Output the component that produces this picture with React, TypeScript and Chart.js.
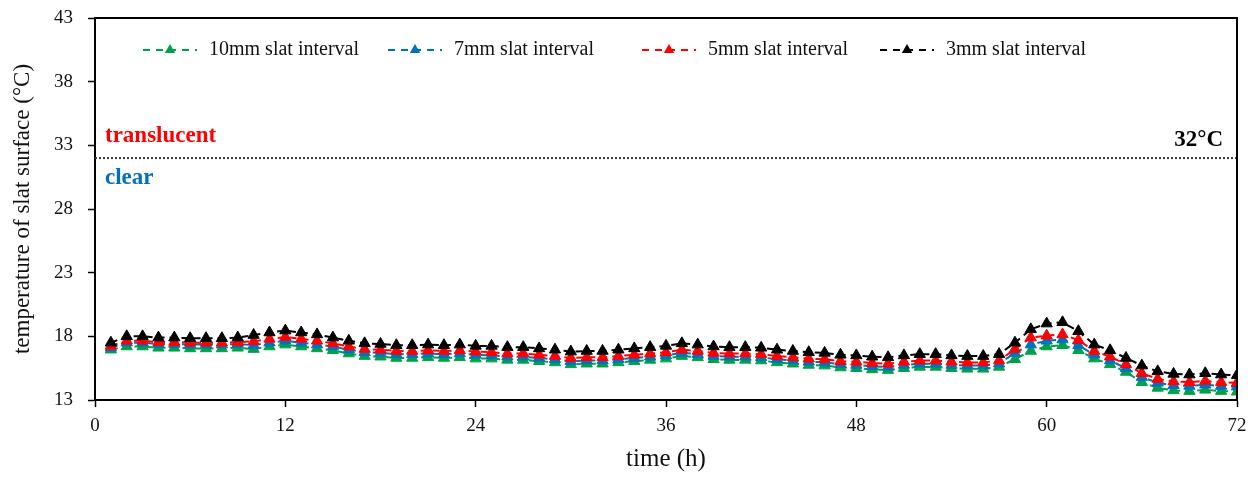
import { useEffect, useRef } from "react";
import { Chart, registerables } from "chart.js";

Chart.register(...registerables);

// Time since start of measurement (h)
const hours = [
  1, 2, 3, 4, 5, 6, 7, 8, 9, 10, 11, 12, 13, 14, 15, 16, 17, 18, 19, 20, 21, 22, 23, 24,
  25, 26, 27, 28, 29, 30, 31, 32, 33, 34, 35, 36, 37, 38, 39, 40, 41, 42, 43, 44, 45, 46, 47, 48,
  49, 50, 51, 52, 53, 54, 55, 56, 57, 58, 59, 60, 61, 62, 63, 64, 65, 66, 67, 68, 69, 70, 71, 72,
];

// Slat surface temperature (°C) for each slat interval
const slat10mm = [
  16.95, 17.2, 17.2, 17.1, 17.1, 17.05, 17.05, 17.05, 17.1, 17.0, 17.2, 17.35, 17.2, 17.05, 16.9, 16.65, 16.45, 16.4, 16.3, 16.3, 16.35, 16.3, 16.35, 16.25,
  16.25, 16.15, 16.15, 16.05, 15.95, 15.8, 15.85, 15.85, 15.95, 16.05, 16.15, 16.25, 16.45, 16.35, 16.2, 16.15, 16.15, 16.1, 15.95, 15.85, 15.75, 15.7, 15.55, 15.5,
  15.4, 15.35, 15.5, 15.6, 15.6, 15.5, 15.45, 15.45, 15.6, 16.2, 16.85, 17.2, 17.3, 16.9, 16.25, 15.8, 15.2, 14.4, 13.95, 13.75, 13.7, 13.8, 13.7, 13.65,
];
const slat7mm = [
  17.1, 17.5, 17.5, 17.4, 17.4, 17.35, 17.35, 17.35, 17.4, 17.3, 17.5, 17.65, 17.5, 17.35, 17.2, 16.95, 16.75, 16.7, 16.6, 16.6, 16.65, 16.6, 16.65, 16.55,
  16.5, 16.4, 16.4, 16.3, 16.2, 16.05, 16.1, 16.1, 16.2, 16.3, 16.4, 16.5, 16.7, 16.6, 16.45, 16.4, 16.4, 16.35, 16.2, 16.1, 16.0, 15.95, 15.8, 15.75,
  15.65, 15.6, 15.75, 15.85, 15.85, 15.75, 15.7, 15.7, 15.85, 16.7, 17.35, 17.65, 17.75, 17.3, 16.55, 16.1, 15.5, 14.8, 14.35, 14.15, 14.1, 14.2, 14.1, 14.05,
];
const slat5mm = [
  17.25, 17.65, 17.65, 17.55, 17.55, 17.5, 17.5, 17.5, 17.55, 17.6, 17.8, 17.95, 17.8, 17.65, 17.45, 17.2, 17.0, 16.95, 16.85, 16.85, 16.9, 16.85, 16.9, 16.8,
  16.75, 16.65, 16.65, 16.55, 16.45, 16.3, 16.35, 16.35, 16.45, 16.55, 16.65, 16.75, 16.95, 16.85, 16.7, 16.65, 16.65, 16.6, 16.45, 16.35, 16.25, 16.2, 16.05, 16.0,
  15.9, 15.85, 16.0, 16.1, 16.1, 16.0, 15.95, 15.95, 16.1, 17.0, 17.9, 18.05, 18.15, 17.7, 16.85, 16.4, 15.8, 15.1, 14.65, 14.45, 14.4, 14.5, 14.4, 14.35,
];
const slat3mm = [
  17.5, 18.0, 18.0, 17.9, 17.9, 17.85, 17.85, 17.85, 17.9, 18.1, 18.3, 18.45, 18.3, 18.15, 17.9, 17.65, 17.45, 17.4, 17.3, 17.3, 17.35, 17.3, 17.35, 17.25,
  17.25, 17.15, 17.15, 17.05, 16.95, 16.8, 16.85, 16.85, 16.95, 17.05, 17.15, 17.25, 17.45, 17.35, 17.2, 17.15, 17.15, 17.1, 16.95, 16.85, 16.75, 16.7, 16.55, 16.5,
  16.4, 16.35, 16.5, 16.6, 16.6, 16.5, 16.45, 16.45, 16.6, 17.5, 18.55, 19.0, 19.1, 18.4, 17.35, 16.9, 16.3, 15.7, 15.25, 15.05, 15.0, 15.1, 15.0, 14.95,
];

const seriesLabels = ["10mm slat interval", "7mm slat interval", "5mm slat interval", "3mm slat interval"];
const seriesColors = ["#00A04B", "#0070C0", "#FF0000", "#000000"];

// Transparency threshold of the slat material
const thresholdTemp = 32;
const thresholdLabel = "32°C";
const aboveLabel = "translucent";
const belowLabel = "clear";

const xTicks = [0, 12, 24, 36, 48, 60, 72];
const yTicks = [13, 18, 23, 28, 33, 38, 43];

const FONT = "'Liberation Serif', 'Times New Roman', serif";

const toPoints = (vals: number[]) => vals.map((v, i) => ({ x: hours[i], y: v }));

const decorPlugin = {
  id: "decor",
  afterDatasetsDraw(chart: any) {
    const { ctx, chartArea: a, scales } = chart;
    const ys = scales.y;
    ctx.save();

    // closing frame (top and right edges)
    ctx.strokeStyle = "#000";
    ctx.lineWidth = 2;
    ctx.setLineDash([]);
    ctx.beginPath();
    ctx.moveTo(a.left, a.top);
    ctx.lineTo(a.right, a.top);
    ctx.lineTo(a.right, a.bottom);
    ctx.stroke();

    // threshold zone labels
    ctx.font = `bold 23px ${FONT}`;
    ctx.textBaseline = "middle";
    ctx.textAlign = "left";
    ctx.fillStyle = "#FF0000";
    ctx.fillText(aboveLabel, a.left + 10, ys.getPixelForValue(thresholdTemp + 1.75));
    ctx.fillStyle = "#0070C0";
    ctx.fillText(belowLabel, a.left + 10, ys.getPixelForValue(thresholdTemp - 1.55));
    ctx.fillStyle = "#000";
    ctx.textAlign = "right";
    ctx.fillText(thresholdLabel, a.right - 14, ys.getPixelForValue(thresholdTemp + 1.45));

    // legend: dashed line sample with a triangle marker
    const legendX = [143, 388, 642, 880];
    const legendY = 50;
    const sampleW = 54;
    ctx.font = `20px ${FONT}`;
    ctx.textAlign = "left";
    seriesLabels.forEach((label, i) => {
      const x0 = legendX[i];
      const color = seriesColors[i];
      ctx.strokeStyle = color;
      ctx.lineWidth = 2;
      ctx.setLineDash([7, 6]);
      ctx.beginPath();
      ctx.moveTo(x0, legendY);
      ctx.lineTo(x0 + sampleW, legendY);
      ctx.stroke();
      ctx.setLineDash([]);
      const cx = x0 + sampleW / 2;
      const r = 6;
      ctx.fillStyle = color;
      ctx.beginPath();
      ctx.moveTo(cx, legendY - r);
      ctx.lineTo(cx + r * 0.866, legendY + r * 0.5);
      ctx.lineTo(cx - r * 0.866, legendY + r * 0.5);
      ctx.closePath();
      ctx.fill();
      ctx.fillStyle = "#111";
      ctx.fillText(label, x0 + 66, legendY);
    });

    ctx.restore();
  },
};

export default function App() {
  const canvasRef = useRef<HTMLCanvasElement | null>(null);

  useEffect(() => {
    const canvas = canvasRef.current;
    if (!canvas) return;

    const seriesValues = [slat10mm, slat7mm, slat5mm, slat3mm];
    const drawOrder = [3, 2, 1, 0];

    const datasets: any[] = seriesValues.map((vals, i) => ({
      label: seriesLabels[i],
      data: toPoints(vals),
      borderColor: seriesColors[i],
      backgroundColor: seriesColors[i],
      borderWidth: 2,
      borderDash: [7, 5],
      pointStyle: "triangle",
      pointRadius: 6.5,
      pointBorderWidth: 1,
      pointBorderColor: seriesColors[i],
      pointBackgroundColor: seriesColors[i],
      tension: 0,
      order: drawOrder[i],
    }));

    datasets.push({
      label: "threshold",
      data: [
        { x: xTicks[0], y: thresholdTemp },
        { x: xTicks[xTicks.length - 1], y: thresholdTemp },
      ],
      borderColor: "#3a3a3a",
      borderWidth: 2,
      borderDash: [2, 2],
      pointRadius: 0,
      order: 10,
    });

    const chart = new Chart(canvas, {
      type: "line",
      data: { datasets },
      options: {
        animation: false,
        responsive: false,
        devicePixelRatio: 1,
        layout: { padding: { top: 18, right: 15, left: 0, bottom: 0 } },
        plugins: {
          legend: { display: false },
          tooltip: { enabled: false },
        },
        scales: {
          x: {
            type: "linear",
            min: xTicks[0],
            max: xTicks[xTicks.length - 1],
            afterBuildTicks: (s: any) => {
              s.ticks = xTicks.map((v) => ({ value: v }));
            },
            afterFit: (s: any) => {
              s.height = 81;
              s.paddingLeft = 0;
              s.paddingRight = 0;
            },
            border: { display: true, color: "#000", width: 2 },
            grid: {
              display: true,
              drawOnChartArea: false,
              drawTicks: true,
              tickLength: 7,
              tickColor: "#000",
              tickWidth: 1.5,
            },
            ticks: {
              color: "#111",
              font: { family: FONT, size: 19 },
              padding: 8,
              maxRotation: 0,
            },
            title: {
              display: true,
              text: "time (h)",
              color: "#111",
              font: { family: FONT, size: 25 },
              padding: { top: 0, bottom: 7 },
            },
          },
          y: {
            type: "linear",
            min: yTicks[0],
            max: yTicks[yTicks.length - 1],
            afterBuildTicks: (s: any) => {
              s.ticks = yTicks.map((v) => ({ value: v }));
            },
            afterFit: (s: any) => {
              s.width = 95;
              s.paddingTop = 0;
              s.paddingBottom = 0;
            },
            border: { display: true, color: "#000", width: 2 },
            grid: {
              display: true,
              drawOnChartArea: false,
              drawTicks: true,
              tickLength: 7,
              tickColor: "#000",
              tickWidth: 1.5,
            },
            ticks: {
              color: "#111",
              font: { family: FONT, size: 19 },
              padding: 15,
            },
            title: {
              display: true,
              text: "temperature of slat surface (°C)",
              color: "#111",
              font: { family: FONT, size: 23 },
              padding: { top: 9, bottom: 0 },
            },
          },
        },
      },
      plugins: [decorPlugin],
    });

    return () => chart.destroy();
  }, []);

  return (
    <div style={{ position: "fixed", left: 0, top: 0, width: 1252, height: 481, background: "#fff" }}>
      <canvas ref={canvasRef} width={1252} height={481} />
    </div>
  );
}
